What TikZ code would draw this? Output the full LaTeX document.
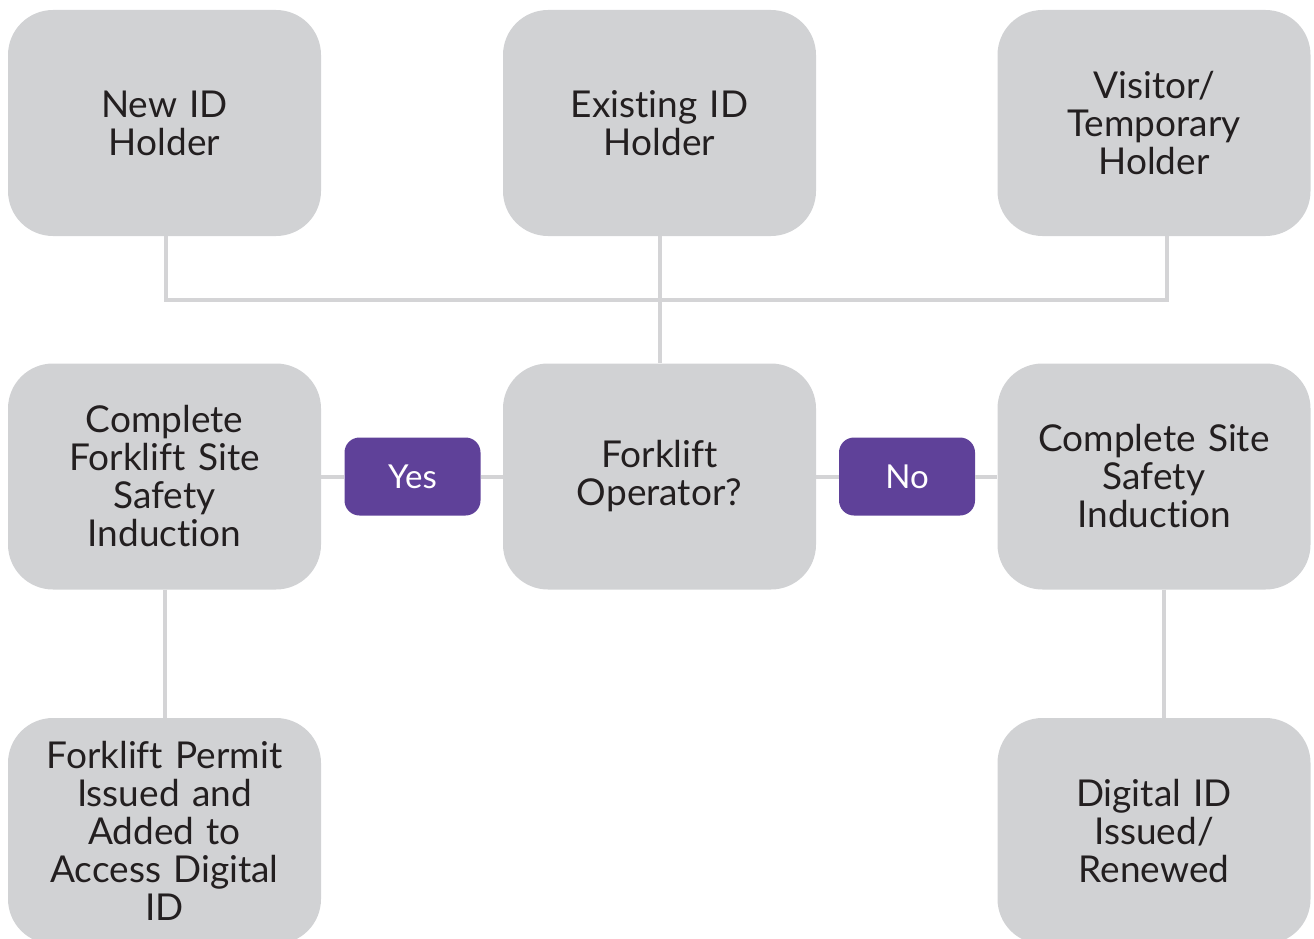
\documentclass[tikz,border=0pt]{standalone}
\usepackage{fontspec}
\setmainfont[Ligatures=NoCommon]{Lato}
\definecolor{boxgray}{HTML}{D1D2D4}
\definecolor{linegray}{HTML}{D4D4D6}
\definecolor{lblpurple}{HTML}{5F4199}
\definecolor{txt}{HTML}{231F20}
\begin{document}
\begin{tikzpicture}[x=1pt,y=-1pt,
  stepbox/.style={fill=boxgray, rounded corners=45pt, minimum width=313pt, minimum height=226pt,
    align=center, text=txt, font=\fontsize{37}{38}\selectfont, inner sep=0pt, text width=300pt},
  lbl/.style={fill=lblpurple, rounded corners=15pt, minimum width=136pt, minimum height=78pt,
    text=white, font=\fontsize{33}{36}\selectfont, inner sep=0pt},
  conn/.style={draw=linegray, line width=4pt}]
\useasboundingbox (0,0) rectangle (1314,939);
\clip (0,0) rectangle (1314,939);
\coordinate (jl) at (166,300);
\coordinate (jr) at (1167,300);
\coordinate (vr) at (1164,600);
\node[stepbox] (newid) at (164.5,123) {New ID\\Holder};
\node[stepbox] (exist) at (659.5,123) {Existing ID\\Holder};
\node[stepbox] (visit) at (1154,123) {Visitor/\\Temporary\\Holder};
\node[stepbox] (fsite) at (164.5,476.5) {Complete\\Forklift Site\\Safety\\Induction};
\node[stepbox] (fop) at (659.5,476.5) {Forklift\\Operator?};
\node[stepbox] (csite) at (1154,476.5) {Complete Site\\Safety\\Induction};
\node[stepbox] (permit) at (164.5,831) {Forklift Permit\\Issued and\\Added to\\Access Digital\\ID};
\node[stepbox] (digid) at (1154,831) {Digital ID\\Issued/\\Renewed};
\node[lbl] (yes) at (412.5,476.5) {Yes};
\node[lbl] (no) at (907,476.5) {No};
\draw[conn] (newid.south -| jl) -- (jl) -- (jr) -- (visit.south -| jr);
\draw[conn] (exist.south) -- (fop.north);
\draw[conn] (fsite.east) -- (yes.west);
\draw[conn] (yes.east) -- (fop.west);
\draw[conn] (fop.east) -- (no.west);
\draw[conn] (no.east) -- (csite.west);
\draw[conn] (fsite.south) -- (permit.north);
\draw[conn] (csite.south -| vr) -- (digid.north -| vr);
\end{tikzpicture}
\end{document}
